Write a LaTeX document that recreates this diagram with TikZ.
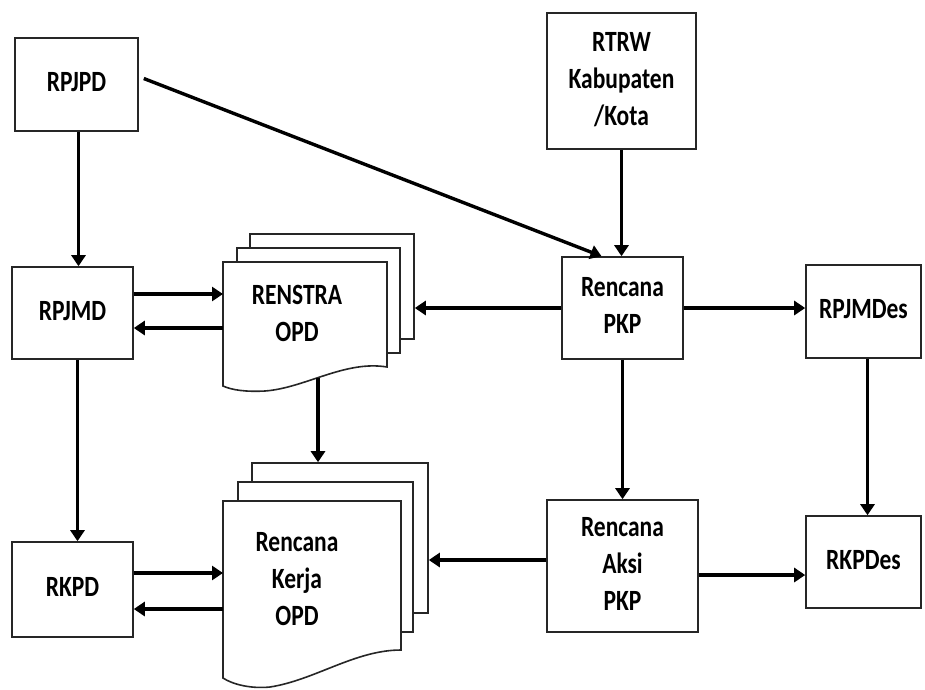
\documentclass[tikz,border=0pt]{standalone}
\usepackage{fontspec}
\setmainfont{Carlito}
\usetikzlibrary{arrows.meta,calc}
\newcommand\lb[1]{\scalebox{1}[1.25]{\begin{tabular}{@{}c@{}}#1\end{tabular}}}
\tikzset{
  box/.style={draw=black!85, line width=1.6pt, fill=white, inner sep=0pt,
    font=\bfseries\fontsize{23.5}{29.6}\selectfont, align=center},
  page/.style={draw=black!85, line width=1.6pt, fill=white},
  txt/.style={inner sep=0pt, font=\bfseries\fontsize{23.5}{29.6}\selectfont, align=center},
  arr/.style={line width=3.4pt, -{Triangle[length=11pt,width=14pt]}}
}
\begin{document}
\begin{tikzpicture}[x=1pt,y=-1pt]
\useasboundingbox (0,0) rectangle (925,689);
% boxes
\node[box, minimum width=123pt, minimum height=93pt] (rpjpd) at (76.5,84.5) {\lb{RPJPD}};
\node[box, minimum width=149pt, minimum height=136pt] (rtrw) at (621.5,81) {\lb{RTRW\\Kabupaten\\/Kota}};
\node[box, minimum width=121pt, minimum height=92pt] (rpjmd) at (72.5,313) {\lb{RPJMD}};
\node[box, minimum width=121pt, minimum height=102pt] (pkp) at (622.5,308) {\lb{Rencana\\PKP}};
\node[box, minimum width=115pt, minimum height=93pt] (rpjmdes) at (863.5,311.5) {\lb{RPJMDes}};
\node[box, minimum width=121pt, minimum height=95pt] (rkpd) at (72.5,589.5) {\lb{RKPD}};
\node[box, minimum width=151pt, minimum height=132pt] (aksi) at (622.5,566) {\lb{Rencana\\Aksi\\PKP}};
\node[box, minimum width=115pt, minimum height=92pt] (rkpdes) at (863.5,562) {\lb{RKPDes}};
% RENSTRA OPD stack
\node[page, inner sep=0pt, minimum width=164pt, minimum height=105pt] (renB) at (332,286.5) {};
\node[page, inner sep=0pt, minimum width=163pt, minimum height=105pt] (renM) at (318.5,300.5) {};
\draw[page] (223,262) -- (387,262) -- (387,367)
  .. controls (345,360) and (305,388) .. (265,391)
  .. controls (245,392) and (232,390) .. (223,386) -- cycle;
\coordinate (renF) at (223,294);
\coordinate (renOut) at (318,378);
\node[txt] (rentxt) at (297,316) {\lb{RENSTRA\\OPD}};
% Rencana Kerja OPD stack
\node[page, inner sep=0pt, minimum width=176pt, minimum height=150pt] (kerB) at (340,538) {};
\node[page, inner sep=0pt, minimum width=175pt, minimum height=150pt] (kerM) at (325.5,557) {};
\draw[page] (223,501) -- (401,501) -- (401,650)
  .. controls (355,650) and (315,680) .. (270,687)
  .. controls (250,689) and (232,684) .. (223,678) -- cycle;
\coordinate (kerF) at (223,575);
\node[txt] (kertxt) at (297,581) {\lb{Rencana\\Kerja\\OPD}};
% connectors
\draw[arr] ([xshift=5pt,yshift=6pt]rpjpd.east) -- ([xshift=-21pt]pkp.north);
\draw[arr] (rtrw.south) -- (rtrw.south |- pkp.north);
\draw[arr] ([xshift=2pt]rpjpd.south) -- ([xshift=2pt]rpjpd.south |- rpjmd.north);
\draw[arr] ([yshift=19pt]rpjmd.east) -- ([yshift=19pt]rpjmd.east -| renF);
\draw[arr] ([yshift=-15pt]rpjmd.east -| renF) -- ([yshift=-15pt]rpjmd.east);
\draw[arr] (pkp.west) -- (pkp.west -| renB.east);
\draw[arr] (pkp.east) -- (pkp.east -| rpjmdes.west);
\draw[arr] ([xshift=5pt]rpjmd.south) -- ([xshift=5pt]rpjmd.south |- rkpd.north);
\draw[arr] (renOut) -- (renOut |- kerB.north);
\draw[arr] (pkp.south) -- (pkp.south |- aksi.north);
\draw[arr] ([xshift=4pt]rpjmdes.south) -- ([xshift=4pt]rpjmdes.south |- rkpdes.north);
\draw[arr] ([yshift=6pt]aksi.west) -- ([yshift=6pt]aksi.west -| kerB.east);
\draw[arr] ([yshift=-9pt]aksi.east) -- ([yshift=-9pt]aksi.east -| rkpdes.west);
\draw[arr] ([yshift=16.5pt]rkpd.east) -- ([yshift=16.5pt]rkpd.east -| kerF);
\draw[arr] ([yshift=-19.5pt]rkpd.east -| kerF) -- ([yshift=-19.5pt]rkpd.east);
\end{tikzpicture}
\end{document}
